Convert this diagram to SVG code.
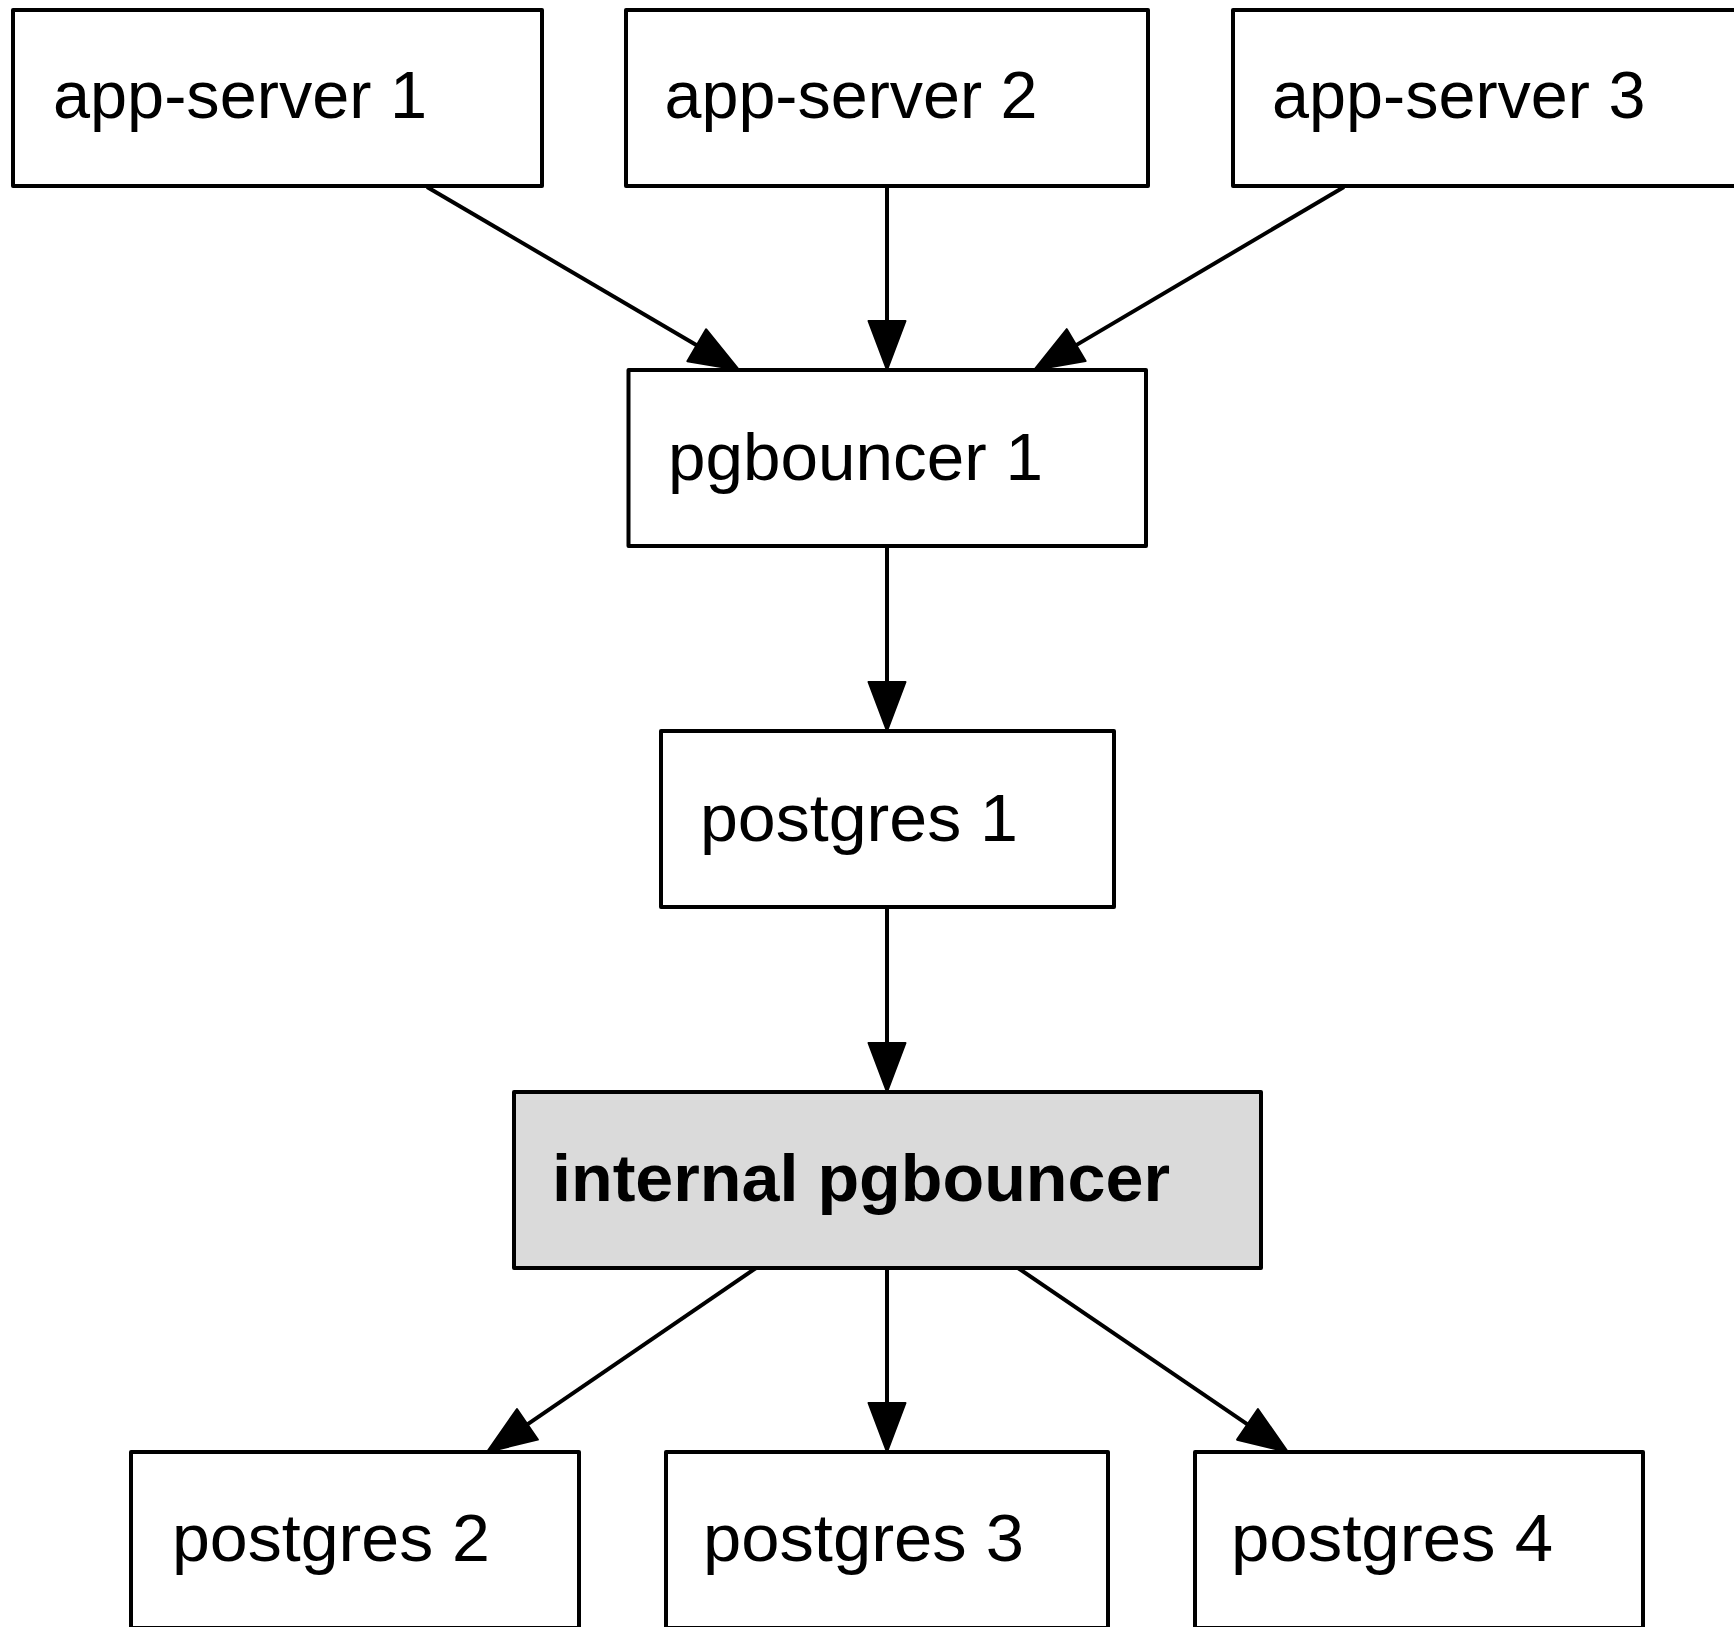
<svg xmlns="http://www.w3.org/2000/svg" width="1734" height="1627" viewBox="0 0 1734 1627">
<style>
.box{fill:#ffffff;stroke:#000000;stroke-width:4;stroke-linejoin:round}
.hl{fill:#dadada}
.lbl{font-family:"Liberation Sans",Arial,sans-serif;font-size:66px;fill:#000000}
.bold{font-weight:bold}
.edge{fill:none;stroke:#000000;stroke-width:4}
</style>
<defs>
<marker id="arr" markerUnits="userSpaceOnUse" markerWidth="60" markerHeight="46" viewBox="-2 -23 60 46" refX="0" refY="0" orient="auto">
<path d="M0,-18.5 L49,0 L0,18.5 Z" fill="#000000" stroke="#000000" stroke-width="2" stroke-linejoin="round"/>
</marker>
</defs>
<rect x="0" y="0" width="1734" height="1627" fill="#ffffff"/>
<g id="connectors">
<line class="edge" x1="427" y1="187" x2="696.7" y2="345.2" marker-end="url(#arr)"/>
<line class="edge" x1="887" y1="187" x2="887" y2="321" marker-end="url(#arr)"/>
<line class="edge" x1="1344" y1="187" x2="1076.2" y2="345.1" marker-end="url(#arr)"/>
<line class="edge" x1="887" y1="546" x2="887" y2="682" marker-end="url(#arr)"/>
<line class="edge" x1="887" y1="907" x2="887" y2="1043" marker-end="url(#arr)"/>
<line class="edge" x1="756" y1="1268" x2="527.4" y2="1424.3" marker-end="url(#arr)"/>
<line class="edge" x1="887" y1="1268" x2="887" y2="1403" marker-end="url(#arr)"/>
<line class="edge" x1="1018" y1="1268" x2="1247.5" y2="1424.4" marker-end="url(#arr)"/>
</g>
<g id="app-server-1">
<rect class="box" x="13" y="10" width="529" height="176"/>
<text class="lbl" x="53" y="118" textLength="374" lengthAdjust="spacingAndGlyphs">app-server 1</text>
</g>
<g id="app-server-2">
<rect class="box" x="626" y="10" width="522" height="176"/>
<text class="lbl" x="664.5" y="118" textLength="373" lengthAdjust="spacingAndGlyphs">app-server 2</text>
</g>
<g id="app-server-3">
<rect class="box" x="1233" y="10" width="540" height="176"/>
<text class="lbl" x="1272" y="118" textLength="373.5" lengthAdjust="spacingAndGlyphs">app-server 3</text>
</g>
<g id="pgbouncer-1">
<rect class="box" x="628.5" y="370" width="517.5" height="176"/>
<text class="lbl" x="668" y="480" textLength="375" lengthAdjust="spacingAndGlyphs">pgbouncer 1</text>
</g>
<g id="postgres-1">
<rect class="box" x="661" y="731" width="453" height="176"/>
<text class="lbl" x="700" y="841" textLength="318" lengthAdjust="spacingAndGlyphs">postgres 1</text>
</g>
<g id="internal-pgbouncer">
<rect class="box hl" x="514" y="1092" width="747" height="176"/>
<text class="lbl bold" x="552" y="1201" textLength="618" lengthAdjust="spacingAndGlyphs">internal pgbouncer</text>
</g>
<g id="postgres-2">
<rect class="box" x="131" y="1452" width="448" height="176"/>
<text class="lbl" x="172" y="1561" textLength="318" lengthAdjust="spacingAndGlyphs">postgres 2</text>
</g>
<g id="postgres-3">
<rect class="box" x="666" y="1452" width="442" height="176"/>
<text class="lbl" x="703" y="1561" textLength="321" lengthAdjust="spacingAndGlyphs">postgres 3</text>
</g>
<g id="postgres-4">
<rect class="box" x="1195" y="1452" width="448" height="176"/>
<text class="lbl" x="1231" y="1561" textLength="322" lengthAdjust="spacingAndGlyphs">postgres 4</text>
</g>
</svg>
